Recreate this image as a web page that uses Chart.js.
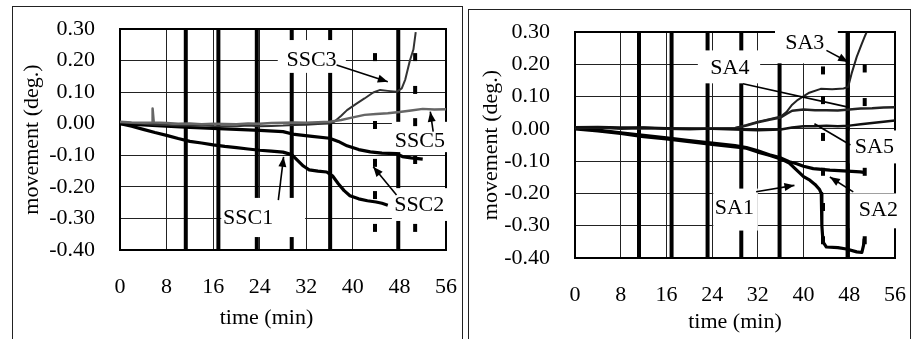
<!DOCTYPE html>
<html>
<head>
<meta charset="utf-8">
<script src="https://cdn.jsdelivr.net/npm/chart.js@4.4.1/dist/chart.umd.min.js"></script>
<style>
  html, body { margin: 0; padding: 0; background: #fff; }
  body { width: 917px; height: 339px; position: relative; overflow: hidden; }
  .panel { position: absolute; border: 1.5px solid #222; box-sizing: border-box; }
  canvas { position: absolute; }
</style>
</head>
<body>
<div class="panel" style="left:12px;top:6px;width:451px;height:350px;"></div>
<div class="panel" style="left:468px;top:9px;width:443px;height:350px;"></div>
<canvas id="chartSSC" width="450" height="333" style="left:12px;top:6px;"></canvas>
<canvas id="chartSA" width="441" height="331" style="left:469px;top:8px;"></canvas>
<script>
// axis ticks (shared by both panels)
const timeTicks = [0, 8, 16, 24, 32, 40, 48, 56];
const moveTicks = [-0.40, -0.30, -0.20, -0.10, 0.00, 0.10, 0.20, 0.30];

// ---- left panel: SSC ----
const ssc1Time = [0, 2, 4, 6, 8, 10, 12, 14, 16, 18, 20, 22, 24, 26, 28, 29.5, 30.5, 31.5, 32.5, 34, 35.5, 36.5, 37.5, 38.5, 39.5, 41, 42.5, 44, 45, 46];
const ssc1 = [0.000, -0.008, -0.018, -0.028, -0.037, -0.047, -0.056, -0.061, -0.067, -0.072, -0.076, -0.080, -0.084, -0.087, -0.090, -0.098, -0.116, -0.134, -0.146, -0.150, -0.153, -0.165, -0.190, -0.212, -0.228, -0.238, -0.244, -0.248, -0.252, -0.258];

const ssc2Time = [0, 4, 8, 12, 16, 20, 24, 28, 30, 33, 36, 37.5, 39, 41, 43, 45, 47.5, 48.5, 50, 52];
const ssc2 = [0.000, -0.004, -0.008, -0.012, -0.015, -0.018, -0.021, -0.025, -0.034, -0.040, -0.046, -0.056, -0.070, -0.082, -0.089, -0.093, -0.095, -0.104, -0.108, -0.112];

const ssc3Time = [0, 2, 4, 6, 8, 10, 12, 14, 16, 18, 20, 22, 24, 26, 28, 30, 32, 34, 36, 36.8, 38, 39, 40.5, 42, 43.5, 44.7, 46, 47.5, 48.4, 49, 49.8, 50.4, 50.8];
const ssc3 = [0.004, 0.002, 0.000, -0.003, -0.004, -0.006, -0.006, -0.005, -0.007, -0.008, -0.008, -0.006, -0.008, -0.007, -0.006, -0.004, -0.003, -0.001, 0.001, 0.006, 0.025, 0.043, 0.062, 0.080, 0.099, 0.107, 0.104, 0.101, 0.112, 0.140, 0.200, 0.235, 0.290];

const ssc5Time = [0, 2, 4, 5.5, 5.6, 5.8, 8, 10, 12, 14, 16, 18, 20, 22, 24, 26, 28, 30, 32, 34, 36, 38, 40, 42, 44, 46, 48, 50, 52, 54, 56];
const ssc5 = [0.006, 0.004, 0.003, 0.004, 0.048, 0.004, 0.002, 0.000, 0.001, -0.002, 0.000, -0.001, -0.002, 0.001, 0.000, 0.002, 0.003, 0.004, 0.003, 0.005, 0.006, 0.012, 0.020, 0.028, 0.031, 0.033, 0.037, 0.042, 0.047, 0.045, 0.046];

// heavy vertical lines and short dashes in the left panel
const sscStages = [11.3, 16.9, 23.5, 29.5, 36.1, 47.8];
const sscMarkTime = [43.8, 43.8, 43.8, 43.8, 43.8, 50.7, 50.7, 50.7, 50.7, 50.7];
const sscMarkValue = [0.211, -0.004, -0.124, -0.226, -0.330, 0.211, 0.107, 0.005, -0.115, -0.330];

// ---- right panel: SA ----
const sa1Time = [0, 4, 8, 12, 16, 20, 24, 28, 30, 32, 34, 36, 37.5, 38.8, 40, 41.1, 42, 42.8, 43.1, 43.2, 43.4, 44, 46, 47.5, 49.3, 50.2, 50.5, 50.6];
const sa1 = [0.000, -0.006, -0.014, -0.024, -0.031, -0.040, -0.048, -0.056, -0.060, -0.072, -0.082, -0.093, -0.106, -0.128, -0.148, -0.159, -0.172, -0.188, -0.200, -0.300, -0.350, -0.366, -0.368, -0.372, -0.381, -0.383, -0.360, -0.340];

const sa2Time = [0, 4, 8, 12, 16, 20, 24, 28, 30, 32, 34, 36, 37.5, 38.8, 40, 41.7, 44.6, 47, 49.9, 50.6];
const sa2 = [0.004, -0.004, -0.012, -0.020, -0.028, -0.036, -0.044, -0.052, -0.058, -0.068, -0.080, -0.090, -0.102, -0.108, -0.116, -0.123, -0.128, -0.130, -0.133, -0.135];

const sa3Time = [0, 4, 8, 12, 16, 20, 24, 28, 30, 32, 34, 36, 37, 38, 39, 41, 43, 45, 47, 47.8, 48.4, 49.3, 50.2, 50.8, 51];
const sa3 = [0.004, 0.006, 0.002, 0.004, 0.001, 0.002, 0.000, 0.003, 0.012, 0.022, 0.030, 0.038, 0.052, 0.075, 0.090, 0.112, 0.124, 0.123, 0.125, 0.130, 0.171, 0.223, 0.264, 0.290, 0.298];

const sa4Time = [0, 4, 8, 12, 16, 20, 24, 28, 30, 32, 34, 36, 37, 38, 40, 42, 44, 46, 48, 50, 52, 54, 56];
const sa4 = [0.002, 0.004, 0.000, 0.002, 0.000, -0.001, 0.001, 0.002, 0.010, 0.020, 0.028, 0.035, 0.046, 0.056, 0.060, 0.058, 0.058, 0.057, 0.060, 0.063, 0.064, 0.066, 0.067];

const sa5Time = [0, 4, 8, 12, 16, 20, 24, 28, 32, 36, 38, 40, 42, 44, 46, 48, 50, 52, 54, 56];
const sa5 = [0.005, 0.006, 0.004, 0.004, 0.002, 0.000, 0.000, -0.002, -0.004, -0.002, 0.004, 0.008, 0.008, 0.010, 0.008, 0.010, 0.014, 0.018, 0.022, 0.026];

const saStages = [11.2, 16.9, 23.2, 29.1, 35.8, 47.7];
const saMarkTime = [43.4, 43.4, 43.4, 43.4, 43.4, 43.4, 50.7, 50.7, 50.7, 50.7];
const saMarkValue = [0.181, 0.089, -0.025, -0.133, -0.242, -0.345, 0.187, 0.083, -0.133, -0.345];

// callout labels: text at [t, v], white box [t0, t1, v0, v1], pointer lines [t0, v0, t1, v1, head]
const sscNotes = [
  { text: 'SSC3', at: [32.9, 0.202], box: [27.1, 38.8, 0.265, 0.161], lines: [[37.2, 0.186, 46.0, 0.133, true]] },
  { text: 'SSC5', at: [51.5, -0.057], box: [46.7, 56.4, 0.006, -0.090], lines: [[53.8, -0.025, 53.3, 0.038, true]] },
  { text: 'SSC2', at: [51.4, -0.257], box: [46.7, 56.4, -0.204, -0.308], lines: [[47.5, -0.226, 43.5, -0.136, true]] },
  { text: 'SSC1', at: [22.0, -0.300], box: [17.4, 31.8, -0.235, -0.359], lines: [[27.2, -0.242, 28.1, -0.105, true]] }
];
const saNotes = [
  { text: 'SA3', at: [40.2, 0.264], box: [35.0, 46.0, 0.321, 0.203], lines: [[44.0, 0.243, 47.8, 0.207, true]] },
  { text: 'SA4', at: [27.1, 0.187], box: [21.5, 32.4, 0.243, 0.141], lines: [[29.4, 0.140, 47.6, 0.068, false]] },
  { text: 'SA5', at: [52.4, -0.056], box: [48.1, 57.7, -0.005, -0.107], lines: [[48.2, -0.050, 41.9, 0.016, false]] },
  { text: 'SA2', at: [53.1, -0.252], box: [48.1, 58.0, -0.200, -0.308], lines: [[48.7, -0.195, 44.6, -0.149, true]] },
  { text: 'SA1', at: [27.9, -0.247], box: [24.2, 32.0, -0.185, -0.315], lines: [[31.7, -0.195, 38.4, -0.175, true]] }
];

Chart.defaults.font.family = '"Liberation Serif", "Times New Roman", serif';
Chart.defaults.color = '#000';

function points(times, values) {
  return times.map((t, i) => ({ x: t, y: values[i] }));
}

function drawArrow(ctx, x0, y0, x1, y1, head) {
  ctx.beginPath();
  ctx.moveTo(x0, y0);
  ctx.lineTo(x1, y1);
  ctx.stroke();
  if (!head) return;
  const a = Math.atan2(y1 - y0, x1 - x0);
  const len = 10, half = 4;
  ctx.beginPath();
  ctx.moveTo(x1, y1);
  ctx.lineTo(x1 - len * Math.cos(a) + half * Math.sin(a), y1 - len * Math.sin(a) - half * Math.cos(a));
  ctx.lineTo(x1 - len * Math.cos(a) - half * Math.sin(a), y1 - len * Math.sin(a) + half * Math.cos(a));
  ctx.closePath();
  ctx.fill();
}

const calloutPlugin = {
  id: 'callouts',
  beforeDatasetsDraw(chart) {
    const { ctx, chartArea: a } = chart;
    ctx.save();
    ctx.strokeStyle = '#000';
    ctx.lineWidth = 2;
    ctx.strokeRect(a.left, a.top, a.right - a.left, a.bottom - a.top);
    ctx.restore();
  },
  afterDatasetDraw(chart, args) {
    // white boxes go over the grid and heavy lines, under the curves
    if (chart.data.datasets[args.index].label !== 'stages') return;
    const { ctx, scales: { x, y } } = chart;
    ctx.save();
    ctx.fillStyle = '#fff';
    chart.options.plugins.callouts.notes.forEach(n => {
      const l = x.getPixelForValue(n.box[0]), r = x.getPixelForValue(n.box[1]);
      const t = y.getPixelForValue(n.box[2]), b = y.getPixelForValue(n.box[3]);
      ctx.fillRect(l, t, r - l, b - t);
    });
    ctx.restore();
  },
  afterDatasetsDraw(chart) {
    const { ctx, scales: { x, y } } = chart;
    ctx.save();
    ctx.strokeStyle = '#000';
    ctx.fillStyle = '#000';
    ctx.lineWidth = 1.6;
    ctx.font = '22px "Liberation Serif", serif';
    ctx.textAlign = 'center';
    ctx.textBaseline = 'middle';
    chart.options.plugins.callouts.notes.forEach(n => {
      n.lines.forEach(p => drawArrow(ctx,
        x.getPixelForValue(p[0]), y.getPixelForValue(p[1]),
        x.getPixelForValue(p[2]), y.getPixelForValue(p[3]), p[4]));
      ctx.fillText(n.text, x.getPixelForValue(n.at[0]), y.getPixelForValue(n.at[1]));
    });
    ctx.restore();
  }
};

function buildChart(id, g, series, stages, markTime, markValue, notes) {
  const stagePoints = [];
  stages.forEach(t => {
    stagePoints.push({ x: t, y: -0.4 }, { x: t, y: 0.3 }, { x: t, y: null });
  });

  const datasets = [{
    label: 'stages', data: stagePoints, borderColor: '#000', borderWidth: 4,
    pointRadius: 0, spanGaps: false, order: 3
  }];
  series.forEach(s => datasets.push({
    label: s.label, data: points(s.time, s.value), borderColor: s.color,
    borderWidth: s.width, pointRadius: 0, tension: 0, order: 2,
    borderJoinStyle: 'round'
  }));
  datasets.push({
    label: 'marks', data: points(markTime, markValue), showLine: false,
    pointStyle: 'line', rotation: 90, pointRadius: 4, pointBorderWidth: 4,
    pointBorderColor: '#000', borderColor: '#000', order: 1
  });

  return new Chart(document.getElementById(id), {
    type: 'line',
    data: { datasets },
    options: {
      responsive: false,
      animation: false,
      devicePixelRatio: 1,
      layout: { padding: { top: g.top, right: g.right, left: 0, bottom: 0 } },
      plugins: {
        legend: { display: false },
        tooltip: { enabled: false },
        callouts: { notes }
      },
      scales: {
        x: {
          type: 'linear', min: 0, max: 56,
          afterBuildTicks: s => { s.ticks = timeTicks.map(v => ({ value: v })); },
          afterFit: s => { s.height = g.xHeight; s.paddingLeft = 0; s.paddingRight = 0; },
          ticks: { font: { size: 22 }, padding: 24, maxRotation: 0, autoSkip: false, color: '#000' },
          grid: { color: '#222', lineWidth: 1, drawTicks: false },
          border: { display: false },
          title: { display: true, text: g.xTitle, font: { size: 22 }, padding: { top: 0, bottom: g.xTitlePad }, color: '#000' }
        },
        y: {
          type: 'linear', min: -0.4, max: 0.3,
          afterBuildTicks: s => { s.ticks = moveTicks.map(v => ({ value: v })); },
          afterFit: s => { s.width = g.yWidth; s.paddingTop = 0; s.paddingBottom = 0; },
          ticks: { font: { size: 22 }, padding: 25, autoSkip: false, color: '#000',
                   callback: v => moveTicks.find(m => Math.abs(m - v) < 1e-6).toFixed(2) },
          grid: { color: '#222', lineWidth: 1, drawTicks: false },
          border: { display: false },
          title: { display: true, text: 'movement (deg.)', font: { size: 22 }, padding: { top: g.yTitlePad, bottom: 0 }, color: '#000' }
        }
      }
    },
    plugins: [calloutPlugin]
  });
}

// the left title sits a little left of the plot centre in the original
buildChart('chartSSC',
  { top: 23, right: 16, xHeight: 89, yWidth: 108, xTitlePad: 8, yTitlePad: 7, xTitle: 'time (min)      ' },
  [
    { label: 'SSC5', time: ssc5Time, value: ssc5, color: '#666', width: 2.5 },
    { label: 'SSC3', time: ssc3Time, value: ssc3, color: '#333', width: 2 },
    { label: 'SSC2', time: ssc2Time, value: ssc2, color: '#000', width: 3.2 },
    { label: 'SSC1', time: ssc1Time, value: ssc1, color: '#000', width: 3.2 }
  ],
  sscStages, sscMarkTime, sscMarkValue, sscNotes);

buildChart('chartSA',
  { top: 24, right: 15, xHeight: 81, yWidth: 106, xTitlePad: 4, yTitlePad: 9, xTitle: 'time (min)' },
  [
    { label: 'SA5', time: sa5Time, value: sa5, color: '#111', width: 2.5 },
    { label: 'SA4', time: sa4Time, value: sa4, color: '#222', width: 2.5 },
    { label: 'SA3', time: sa3Time, value: sa3, color: '#222', width: 2 },
    { label: 'SA2', time: sa2Time, value: sa2, color: '#000', width: 3.2 },
    { label: 'SA1', time: sa1Time, value: sa1, color: '#000', width: 3.2 }
  ],
  saStages, saMarkTime, saMarkValue, saNotes);
</script>
</body>
</html>
